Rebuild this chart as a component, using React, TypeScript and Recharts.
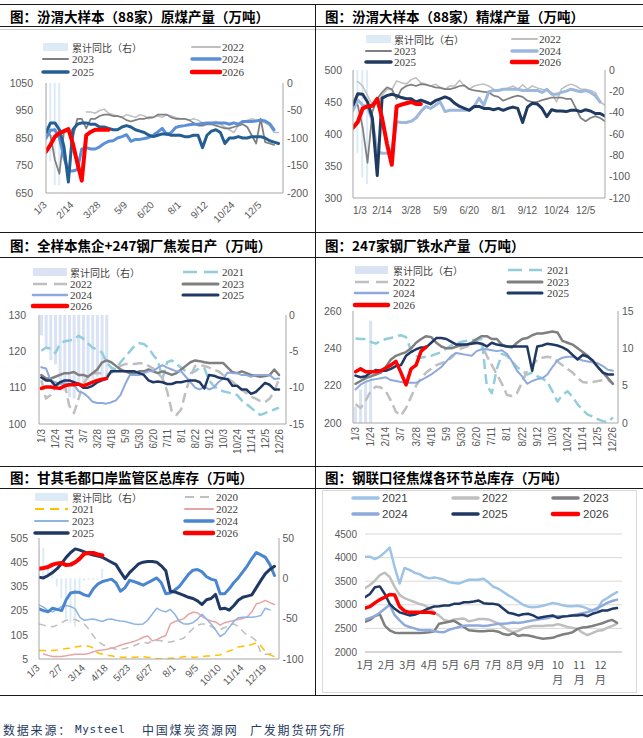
import React from 'react';
import { ComposedChart, Line, Bar, XAxis, YAxis, CartesianGrid } from 'recharts';

const SANS = '"Liberation Sans", Arial, sans-serif';
const SERIF = '"Liberation Serif", "Times New Roman", serif';
const CJK = '"Noto Sans CJK SC", "Noto Sans", sans-serif';
const TICK = '#595959';
const AXIS = '#A6A6A6';
const _ = null;

// ---------- Chart 1: 汾渭原煤产量 ----------
const c1Ticks = [0, 6, 12, 18, 24, 30, 36, 42, 48];
const c1Labels = ['1/3', '2/14', '3/28', '5/9', '6/20', '8/1', '9/12', '10/24', '12/5'];
const c1Bar = [-64, -143, -186, -186];
const c1_2022 = [_, _, _, _, _, _, _, _, _, 945, 945, 940, 950, 955, 940, 935, 930, 925, 935, 930, 925, 935, 930, 920, 925, 930, 925, 935, 930, 925, 920, 920, 915, 920, 915, 905, 900, 905, 910, 900, 890, 880, 870, 895, 905, 915, 920, 915, 910, 905, 895, 870, 870];
const c1_2023 = [870, 860, 770, 720, 870, 880, 850, 920, 920, 885, 920, 920, 930, 935, 935, 930, 930, 925, 915, 910, 915, 920, 920, 925, 925, 935, 935, 935, 925, 920, 920, 920, 915, 905, 895, 895, 900, 900, 895, 890, 885, 885, 890, 895, 900, 890, 860, 830, 920, 835, 830, 825];
const c1_2024 = [849, 878, 880, 850, 780, 730, 730, 735, 810, 815, 810, 810, 818, 830, 838, 840, 850, 855, 862, 838, 845, 845, 848, 852, 860, 872, 885, 862, 870, 888, 893, 895, 898, 900, 900, 903, 905, 905, 905, 905, 905, 900, 905, 900, 910, 910, 910, 912, 915, 912, 902, 880];
const c1_2025 = [870, 905, 905, 880, 820, 690, 880, 900, 905, 905, 900, 900, 890, 890, 885, 880, 880, 890, 895, 890, 880, 875, 870, 860, 855, 860, 865, 865, 860, 860, 860, 855, 855, 860, 860, 815, 860, 875, 880, 870, 830, 850, 850, 855, 850, 850, 855, 855, 855, 850, 840, 835, 830];
const c1_2026 = [800, 825, 855, 868, 875, 882, 830, 760, 695, 860, 872, 880, 880, 880, 880];

// ---------- Chart 2: 汾渭精煤产量 ----------
const c2Ticks = [0, 6, 12, 18, 24, 30, 36, 42, 48];
const c2Labels = ['1/3', '2/14', '3/28', '5/9', '6/20', '8/1', '9/12', '10/24', '12/5'];
const c2Bar = [-37, -78, -101, -107];
const c2_2022 = [_, 482, 475, 460, 445, 448, 460, 470, 469, 483, 480, 478, 485, 488, 480, 478, 475, 478, 473, 470, 475, 475, 484, 475, 470, 475, 477, 478, 475, 470, 468, 470, 472, 475, 470, 477, 470, 475, 472, 470, 468, 465, 450, 470, 475, 478, 475, 470, 470, 468, 465, 450, 445];
const c2_2023 = [450, 445, 410, 355, 435, 455, 465, 473, 470, 455, 470, 475, 477, 475, 478, 477, 475, 473, 472, 470, 470, 472, 475, 476, 470, 468, 467, 466, 465, 460, 458, 452, 455, 458, 460, 458, 452, 450, 450, 453, 455, 457, 457, 457, 455, 455, 440, 425, 420, 425, 428, 425, 420];
const c2_2024 = [437, 453, 445, 443, 420, 372, 370, 370, 375, 419, 418, 418, 420, 425, 435, 443, 440, 445, 450, 435, 437, 437, 437, 437, 438, 443, 456, 445, 466, 468, 468, 470, 470, 470, 470, 468, 468, 468, 468, 465, 470, 462, 462, 465, 467, 470, 468, 466, 468, 465, 460, 450];
const c2_2025 = [445, 463, 462, 450, 425, 335, 456, 460, 462, 460, 457, 455, 455, 450, 453, 450, 447, 452, 455, 458, 455, 448, 443, 440, 437, 443, 443, 440, 440, 438, 440, 437, 440, 442, 440, 418, 442, 448, 447, 440, 427, 438, 436, 436, 435, 437, 437, 435, 438, 436, 432, 432, 428];
const c2_2026 = [410, 419, 440, 443, 444, 455, 425, 385, 352, 443, 446, 448, 450, 447, 447];

// ---------- Chart 3: 焦炭日产 ----------
const c3Ticks = [0, 3, 6, 9, 12, 15, 18, 21, 24, 27, 30, 33, 36, 39, 42, 45, 48, 51];
const c3Labels = ['1/3', '1/24', '2/14', '3/7', '3/28', '4/18', '5/9', '5/30', '6/20', '7/11', '8/1', '8/22', '9/12', '10/3', '10/24', '11/14', '12/5', '12/26'];
const c3Bar = [-2.8, -4.5, -6.2, -6.8, -9, -10.5, -11.3, -11.5, -9.5, -9.2, -9, -8.8, -8.5, -8.5, -8.7];
const c3_2021 = [120.2, 121, 120.8, 119.5, 122, 122.8, 123, 123.2, 124.3, 123.5, 122.2, 121, 120.5, 119.7, 117, 115.5, 115, 117, 118.5, 120, 121.5, 122.2, 122, 121, 119, 117.5, 112.5, 117, 117.5, 116.5, 115.5, 114.5, 114, 114.5, 115.5, 115.3, 112, 110.5, 109.5, 109, 108.7, 108.4, 108, 106.5, 105.5, 104.5, 103.3, 102.5, 103, 103.5, 104, 104.5];
const c3_2022 = [112, 107, 108, 110, 111.5, 111, 105, 103, 107, 111, 113, 114, 114, 114, 113.5, 114, 115, 116, 116.5, 116.5, 116.5, 116.7, 116.7, 116, 115.3, 114, 112.6, 109, 103.5, 102.5, 104, 109, 113, 116, 116.2, 116, 115.5, 115, 114.5, 113.5, 112.5, 111.7, 110.5, 109.4, 108.5, 107.5, 107, 106.3, 106, 107, 109, 112.4];
const c3_2023 = [113.5, 112.5, 112.5, 113, 113.5, 114, 114, 114.3, 113.5, 113.5, 113, 114, 115, 116.9, 117.5, 117, 116, 115, 114.5, 114, 114, 114.5, 114.5, 115, 114.5, 114, 114.5, 114, 113.5, 114, 115, 116, 117, 117.5, 117.3, 117, 116.8, 116.8, 116.8, 116.8, 115.5, 114.3, 114, 114.5, 114, 113.5, 113.3, 113, 113.2, 113.5, 115, 113.5];
const c3_2024 = [115.6, 115.3, 112, 111.5, 111, 111.2, 111, 110.8, 109, 108.5, 107.5, 106.1, 105.8, 105.8, 105.6, 106, 106.5, 108, 111, 113.5, 113.5, 113.5, 114, 114.5, 114.5, 115.5, 116.2, 115.5, 115, 114.5, 114.5, 113, 111.5, 110, 109.5, 110.3, 109.5, 110, 111.5, 112.5, 114.2, 114, 114, 113.5, 113.5, 113, 113.5, 113.5, 113.5, 113.5, 112.4, 112.5];
const c3_2025 = [112.8, 112, 112, 110.5, 111.5, 112, 112, 111.5, 111, 110, 110, 110.5, 111.5, 112, 112.5, 114.6, 114.5, 114.5, 114.5, 114.5, 114.5, 114, 113.5, 112, 111.5, 111.7, 111.5, 111, 111, 111.5, 111.5, 111.8, 112, 112, 111.5, 109.8, 113.5, 113.3, 112.8, 112.5, 112.3, 110.5, 110.5, 109.5, 109.5, 108.3, 108.8, 110, 111.3, 110.8, 109.5, 109.5];
const c3_2026 = [109.8, 110.2, 110.2, 110, 109.8, 110.5, 110.8, 110.8, 111, 110.5, 111, 111.5, 112, 112.3, 112.5];

// ---------- Chart 4: 247家钢厂铁水产量 ----------
const c4Ticks = c3Ticks;
const c4Labels = c3Labels;
const c4Bar = [2.2, 4.5, 6, 13.7];
const c4_2021 = [245.3, 245, 245, 243.5, 242.5, 244, 245, 245.5, 246.5, 247, 246, 239, 236, 235, 235.5, 236, 237, 238, 240, 241.5, 242.5, 243.5, 244, 244.5, 244.5, 245, 220, 216, 229, 237, 236, 233, 230, 228, 226, 227, 225, 224, 222, 217, 211.5, 215, 217, 214, 210, 207, 204.5, 203.5, 202, 201, 200.5, 203];
const c4_2022 = [210, 208, 212, 217, 219.5, 219, 217, 212, 206, 204, 208, 214, 220, 224, 227, 229, 231, 232, 233, 235, 238, 240, 241, 242, 243, 242, 236, 231, 226, 221, 215, 214.5, 216, 222, 228, 231, 234, 235, 235.5, 235, 233, 231, 229, 227, 224, 222, 221.5, 222, 222.5, 223, 223, 221];
const c4_2023 = [221, 222.5, 224, 225, 226, 227, 230, 234, 236, 237, 238, 240, 243, 245, 246.5, 246, 243, 241, 240, 240, 241, 241.5, 242, 243, 245, 246.5, 246.5, 245, 245, 242, 241, 240.5, 243, 245, 245.5, 247, 248, 248, 248.5, 249, 248.5, 244, 243, 242, 240, 238, 236, 233, 230, 227, 224, 221];
const c4_2024 = [218, 220.5, 222, 223, 223.5, 224, 224.5, 223, 222.5, 222, 221.5, 221.5, 221.5, 223, 224.5, 226, 228, 230, 233, 236, 237.5, 237, 236.5, 236, 238.5, 239.5, 239.5, 239, 238.5, 239, 237, 233, 228, 225, 221, 222.5, 223.5, 224, 226, 230, 233.5, 235, 235.5, 235.5, 234.5, 233.5, 233, 232.5, 232, 230.5, 228.5, 228];
const c4_2025 = [225.4, 224.5, 225, 227, 228.4, 228, 228, 229, 230.5, 231, 236, 238, 239.5, 240.5, 240.5, 243, 245.5, 245.5, 245, 243.5, 242, 242, 242, 242.5, 243, 242.5, 241, 243, 242, 241.5, 241, 241, 241, 241, 241, 228, 241, 241.5, 242.5, 242, 241.5, 240.5, 239, 236.5, 234, 236.5, 235.5, 233.5, 230, 227, 226, 226];
const c4_2026 = [227.5, 229, 227.5, 227.5, 227.5, 228, 229.5, 231, 233, 227, 220.4, 229, 231, 238.5, 240.8];

// ---------- Chart 5: 甘其毛都口岸库存 ----------
const c5Ticks = [0, 5, 10, 15, 20, 25, 30, 35, 40, 45, 50];
const c5Labels = ['1/3', '2/7', '3/14', '4/18', '5/23', '6/27', '8/1', '9/5', '10/10', '11/14', '12/19'];
const c5Bar = [36, 38, 12, 12, -10, -25, -50, -55, -60, -20, -3, -2, -2, -2, 12];
const c5_2020 = [150, 145, 140, 138, 145, 155, 165, 168, 168, 160, 150, 128, 100, 78, 65, 58, 50, 45, 45, 48, 55, 60, 68, 74, 70, 78, 82, 80, 76, 75, 80, 85, 92, 112, 130, 145, 150, 150, 140, 130, 126, 135, 145, 150, 140, 120, 102, 95, 80, 30, 25, 25, 35];
const c5_2021 = [40, 40, 40, 40, 42, 45, 48, 50, 55, 58, 60, 58, 50, 30, 25, 20, 18, 14, 12, 12, 12, 12, 13, 15, 12, 10, 7, 6, 7, 8, 8, 10, 15, 14, 12, 13, 15, 17, 18, 20, 22, 30, 38, 45, 55, 58, 60, 65, 72, 60, 35, 22, 15];
const c5_2022 = [_, 26, 20, 15, 15, 15, 18, 22, 25, 25, 25, 28, 35, 40, 42, 45, 50, 55, 62, 68, 72, 78, 85, 95, 100, 80, 85, 95, 102, 150, 160, 165, 172, 190, 198, 196, 180, 170, 162, 158, 145, 155, 160, 164, 168, 172, 180, 200, 233, 238, 247, 238, 230];
const c5_2023 = [229, 219, 205, 200, 210, 222, 226, 222, 212, 178, 165, 168, 170, 165, 160, 168, 170, 165, 162, 160, 155, 150, 148, 150, 165, 190, 215, 205, 200, 210, 190, 160, 150, 150, 155, 170, 190, 170, 150, 125, 98, 110, 135, 160, 175, 178, 178, 178, 180, 185, 215, 208];
const c5_2024 = [212, 205, 200, 215, 210, 205, 250, 278, 282, 280, 270, 265, 295, 315, 325, 330, 335, 320, 285, 300, 330, 325, 318, 310, 320, 330, 340, 320, 275, 278, 290, 305, 330, 355, 372, 375, 365, 345, 335, 330, 275, 275, 295, 320, 340, 365, 390, 420, 445, 435, 425, 395, 350];
const c5_2025 = [343, 340, 350, 362, 378, 400, 425, 445, 460, 455, 448, 440, 435, 430, 425, 415, 405, 395, 365, 337, 362, 380, 398, 405, 408, 408, 405, 390, 370, 285, 282, 275, 268, 260, 255, 245, 230, 250, 255, 272, 212, 215, 207, 225, 248, 260, 265, 270, 300, 330, 358, 375, 388];
const c5_2026 = [378, 381, 385, 395, 400, 402, 393, 395, 405, 420, 440, 443, 443, 437, 433];

// ---------- Chart 6: 钢联焦煤总库存 ----------
const c6Months = ['1月', '2月', '3月', '4月', '5月', '6月', '7月', '8月', '9月', '10月', '11月', '12月'];
const c6Ticks = c6Months.map((_m, m) => (m * 52) / 12);
const c6_2021 = [4020, 4020, 3970, 4020, 4110, 4210, 3800, 3450, 3780, 3740, 3680, 3650, 3590, 3560, 3580, 3560, 3530, 3480, 3460, 3450, 3490, 3530, 3530, 3530, 3550, 3470, 3380, 3340, 3270, 3200, 3140, 3070, 3000, 2960, 2950, 2960, 2980, 3010, 3040, 3020, 2990, 2970, 2970, 2980, 2960, 2920, 2880, 2900, 3080, 3140, 3210, 3270];
const c6_2022 = [3350, 3420, 3510, 3630, 3680, 3590, 3380, 3210, 3140, 3100, 3060, 3020, 2990, 2920, 2840, 2770, 2680, 2650, 2690, 2700, 2710, 2650, 2670, 2700, 2700, 2690, 2650, 2600, 2530, 2460, 2420, 2450, 2500, 2530, 2550, 2550, 2550, 2560, 2560, 2590, 2560, 2530, 2510, 2490, 2410, 2360, 2400, 2450, 2460, 2510, 2550, 2600];
const c6_2023 = [2640, 2680, 2760, 2800, 2560, 2460, 2410, 2400, 2400, 2400, 2400, 2400, 2410, 2420, 2440, 2600, 2620, 2640, 2660, 2600, 2530, 2460, 2450, 2440, 2440, 2450, 2450, 2430, 2380, 2360, 2400, 2340, 2360, 2350, 2330, 2300, 2280, 2290, 2300, 2340, 2370, 2390, 2420, 2490, 2520, 2530, 2550, 2580, 2610, 2650, 2680, 2620];
const c6_2024 = [2690, 2720, 2760, 2830, 2915, 3000, 2780, 2670, 2570, 2530, 2500, 2465, 2460, 2460, 2445, 2425, 2420, 2470, 2500, 2530, 2555, 2560, 2560, 2560, 2550, 2560, 2580, 2600, 2600, 2610, 2625, 2615, 2630, 2650, 2670, 2690, 2705, 2720, 2750, 2760, 2760, 2765, 2780, 2800, 2820, 2845, 2880, 2930, 2980, 3040, 3080, 3110];
const c6_2025 = [3160, 3230, 3370, 3390, 3230, 3020, 2915, 2840, 2810, 2775, 2790, 2830, 2880, 2930, 2965, 2970, 2985, 2985, 3020, 3020, 3055, 3055, 3070, 3090, 3035, 3020, 3020, 3000, 2915, 2830, 2810, 2775, 2800, 2810, 2775, 2720, 2740, 2760, 2775, 2720, 2750, 2760, 2775, 2775, 2790, 2760, 2810, 2840, 2880, 2880, 2915, 2930];
const c6_2026 = [2930, 2960, 3040, 3110, 3160, 3220, 3210, 2960, 2870, 2840, 2840, 2840, 2840, 2840, 2820];

type Series = Record<string, (number | null)[]>;
function buildRows(n: number, series: Series) {
  return Array.from({ length: n }, (_v, i) => {
    const r: Record<string, number | null> = { x: i };
    for (const k of Object.keys(series)) r[k] = series[k][i] ?? null;
    return r;
  });
}

const rows1 = buildRows(53, { bar: c1Bar, y2022: c1_2022, y2023: c1_2023, y2024: c1_2024, y2025: c1_2025, y2026: c1_2026 });
const rows2 = buildRows(53, { bar: c2Bar, y2022: c2_2022, y2023: c2_2023, y2024: c2_2024, y2025: c2_2025, y2026: c2_2026 });
const rows3 = buildRows(52, { bar: c3Bar, y2021: c3_2021, y2022: c3_2022, y2023: c3_2023, y2024: c3_2024, y2025: c3_2025, y2026: c3_2026 });
const rows4 = buildRows(52, { bar: c4Bar, y2021: c4_2021, y2022: c4_2022, y2023: c4_2023, y2024: c4_2024, y2025: c4_2025, y2026: c4_2026 });
const rows5 = buildRows(53, { bar: c5Bar, y2020: c5_2020, y2021: c5_2021, y2022: c5_2022, y2023: c5_2023, y2024: c5_2024, y2025: c5_2025, y2026: c5_2026 });
const rows6 = buildRows(52, { y2021: c6_2021, y2022: c6_2022, y2023: c6_2023, y2024: c6_2024, y2025: c6_2025, y2026: c6_2026 });

type Mode = 'd45' | 'd90' | 'flat' | 'month';
function makeXTick(ticks: number[], labels: string[], mode: Mode, dx = 0) {
  return (props: any) => {
    const { x, y, payload } = props;
    const idx = ticks.findIndex((t) => Math.abs(t - payload.value) < 1e-6);
    const label = idx >= 0 ? labels[idx] : '';
    const common = { fill: TICK, fontSize: 10, fontFamily: SANS };
    if (mode === 'flat') {
      return (
        <text x={x} y={y} textAnchor={idx === 0 ? 'start' : 'middle'} dominantBaseline="central" {...common}>
          {label}
        </text>
      );
    }
    if (mode === 'month') {
      const parts = label.length > 2 ? [label.slice(0, -1), label.slice(-1)] : [label];
      return (
        <g>
          {parts.map((p, k) => (
            <text key={k} x={x} y={y + k * 15} textAnchor="middle" dominantBaseline="central" fill={TICK} fontSize={11} fontFamily={CJK}>
              {p}
            </text>
          ))}
        </g>
      );
    }
    const ang = mode === 'd45' ? -45 : -90;
    const ax = x + dx;
    return (
      <text x={ax} y={y} transform={`rotate(${ang} ${ax} ${y})`} textAnchor="end" dominantBaseline="central" {...common}>
        {label}
      </text>
    );
  };
}

const yTick = { fill: TICK, fontSize: 10.5, fontFamily: SANS };

function yAxis(id: string, side: 'left' | 'right', domain: number[], ticks: number[], width: number, margin: number, line = true) {
  return (
    <YAxis
      yAxisId={id}
      orientation={side}
      type="number"
      domain={domain}
      ticks={ticks}
      width={width}
      tickSize={0}
      tickMargin={margin}
      tickLine={false}
      axisLine={line ? { stroke: AXIS } : false}
      tick={yTick}
      interval={0}
      allowDataOverflow
    />
  );
}

function xAxis(domain: number[], ticks: number[], labels: string[], mode: Mode, height: number, margin: number, dx = 0, stroke = AXIS) {
  return (
    <XAxis
      type="number"
      dataKey="x"
      domain={domain}
      ticks={ticks}
      interval={0}
      tickSize={0}
      tickMargin={margin}
      tickLine={false}
      height={height}
      axisLine={{ stroke }}
      tick={makeXTick(ticks, labels, mode, dx)}
      allowDataOverflow
    />
  );
}

function ln(key: string, color: string, w: number, dash?: string, axisId: string | number = 'l') {
  return (
    <Line
      key={key}
      yAxisId={axisId}
      type="linear"
      dataKey={key}
      stroke={color}
      strokeWidth={w}
      strokeDasharray={dash}
      strokeLinejoin="round"
      strokeLinecap={dash ? 'butt' : 'round'}
      dot={false}
      activeDot={false}
      isAnimationActive={false}
    />
  );
}

function bar(color: string, size: number) {
  return <Bar yAxisId="r" dataKey="bar" fill={color} barSize={size} isAnimationActive={false} />;
}

// ---------- overlay: frame, titles, legends ----------
type LegItem = { label: string; color: string; kind: 'bar' | 'line'; sw?: number; dash?: string };
type Col = [number, number, number];
function LegendBlock({ cols, rows, items, sans }: { cols: Col[]; rows: number[]; items: LegItem[]; sans?: boolean }) {
  return (
    <g>
      {items.map((it, k) => {
        const [x0, x1, tx] = cols[k % cols.length];
        const y = rows[Math.floor(k / cols.length)];
        const cjk = /[\u4e00-\u9fff]/.test(it.label);
        return (
          <g key={k}>
            {it.kind === 'bar' ? (
              <rect x={x0} y={y - 4} width={x1 - x0} height={8} fill={it.color} />
            ) : (
              <line x1={x0} y1={y} x2={x1} y2={y} stroke={it.color} strokeWidth={it.sw ?? 2} strokeDasharray={it.dash} strokeLinecap={it.dash ? 'butt' : 'round'} />
            )}
            <text
              x={tx}
              y={y}
              dominantBaseline="central"
              fill="#404040"
              fontSize={sans ? 11.5 : cjk ? 10 : 11}
              fontFamily={sans ? SANS : cjk ? CJK : SERIF}
            >
              {it.label}
            </text>
          </g>
        );
      })}
    </g>
  );
}

const BAR_C = '#DDEBF7';
const BAR_C2 = '#DAE3F3';
const TITLES = [
  { x: 10, y: 16, t: '图：汾渭大样本（88家）原煤产量（万吨）' },
  { x: 325, y: 16, t: '图：汾渭大样本（88家）精煤产量（万吨）' },
  { x: 10, y: 245, t: '图：全样本焦企+247钢厂焦炭日产（万吨）' },
  { x: 325, y: 245, t: '图：247家钢厂铁水产量（万吨）' },
  { x: 10, y: 477, t: '图：甘其毛都口岸监管区总库存（万吨）' },
  { x: 325, y: 477, t: '图：钢联口径焦煤各环节总库存（万吨）' },
];
const HLINES = [4, 26, 232, 257, 466, 488, 695];

function Overlay() {
  return (
    <svg width={643} height={738} style={{ position: 'absolute', left: 0, top: 0 }}>
      {HLINES.map((y) => (
        <line key={y} x1={0} y1={y + 0.5} x2={643} y2={y + 0.5} stroke="#1a1a1a" strokeWidth={1} />
      ))}
      <line x1={0} y1={29.5} x2={643} y2={29.5} stroke="#D0D0D0" strokeWidth={1} />
      <line x1={315.5} y1={4} x2={315.5} y2={695} stroke="#1a1a1a" strokeWidth={1} />
      <rect x={322.5} y={490.5} width={314} height={202} fill="none" stroke="#D9D9D9" strokeWidth={1} />
      {TITLES.map((t, k) => (
        <text key={k} x={t.x} y={t.y} dominantBaseline="central" fontSize={13.5} fontWeight={700} fontFamily={CJK} fill="#000">
          {t.t}
        </text>
      ))}
      <LegendBlock
        cols={[[43, 68, 72], [192, 220, 222]]}
        rows={[47, 59, 72]}
        items={[
          { label: '累计同比（右）', color: BAR_C, kind: 'bar' },
          { label: '2022', color: '#BFBFBF', kind: 'line', sw: 2 },
          { label: '2023', color: '#7F7F7F', kind: 'line', sw: 2 },
          { label: '2024', color: '#5B8FD6', kind: 'line', sw: 3.5 },
          { label: '2025', color: '#255E91', kind: 'line', sw: 3.5 },
          { label: '2026', color: '#FF0000', kind: 'line', sw: 4.5 },
        ]}
      />
      <LegendBlock
        cols={[[366, 391, 394], [512, 537, 539]]}
        rows={[39, 51, 62]}
        items={[
          { label: '累计同比（右）', color: BAR_C, kind: 'bar' },
          { label: '2022', color: '#BFBFBF', kind: 'line', sw: 2 },
          { label: '2023', color: '#808080', kind: 'line', sw: 2 },
          { label: '2024', color: '#9DB7DD', kind: 'line', sw: 3.5 },
          { label: '2025', color: '#203A60', kind: 'line', sw: 3.5 },
          { label: '2026', color: '#FF0000', kind: 'line', sw: 4.5 },
        ]}
      />
      <LegendBlock
        cols={[[33, 67, 70], [183, 218, 222]]}
        rows={[272, 284, 295, 306]}
        items={[
          { label: '累计同比（右）', color: BAR_C2, kind: 'bar' },
          { label: '2021', color: '#92CDDC', kind: 'line', sw: 2.5, dash: '14 7' },
          { label: '2022', color: '#BFBFBF', kind: 'line', sw: 2.5, dash: '14 7' },
          { label: '2023', color: '#7F7F7F', kind: 'line', sw: 3 },
          { label: '2024', color: '#8EA9DB', kind: 'line', sw: 2.5 },
          { label: '2025', color: '#1F3864', kind: 'line', sw: 3 },
          { label: '2026', color: '#FF0000', kind: 'line', sw: 4.5 },
        ]}
      />
      <LegendBlock
        cols={[[355, 388, 393], [508, 542, 547]]}
        rows={[270, 282, 293, 305]}
        items={[
          { label: '累计同比（右）', color: BAR_C2, kind: 'bar' },
          { label: '2021', color: '#92CDDC', kind: 'line', sw: 2.5, dash: '14 7' },
          { label: '2022', color: '#BFBFBF', kind: 'line', sw: 2.5, dash: '14 7' },
          { label: '2023', color: '#7F7F7F', kind: 'line', sw: 3 },
          { label: '2024', color: '#8EA9DB', kind: 'line', sw: 2.5 },
          { label: '2025', color: '#1F3864', kind: 'line', sw: 3 },
          { label: '2026', color: '#FF0000', kind: 'line', sw: 4.5 },
        ]}
      />
      <LegendBlock
        cols={[[35, 68, 72], [185, 213, 216]]}
        rows={[497, 509, 521, 533]}
        items={[
          { label: '累计同比（右）', color: BAR_C, kind: 'bar' },
          { label: '2020', color: '#BFBFBF', kind: 'line', sw: 2, dash: '9 6' },
          { label: '2021', color: '#FFC000', kind: 'line', sw: 2, dash: '9 6' },
          { label: '2022', color: '#E6A5A5', kind: 'line', sw: 2 },
          { label: '2023', color: '#8DB4E2', kind: 'line', sw: 2 },
          { label: '2024', color: '#4A86D0', kind: 'line', sw: 3.5 },
          { label: '2025', color: '#1F3864', kind: 'line', sw: 3.5 },
          { label: '2026', color: '#FF0000', kind: 'line', sw: 4.5 },
        ]}
      />
      <LegendBlock
        sans
        cols={[[353, 378, 382], [453, 478, 482], [553, 578, 583]]}
        rows={[498, 514]}
        items={[
          { label: '2021', color: '#9DC3E6', kind: 'line', sw: 3.5 },
          { label: '2022', color: '#BFBFBF', kind: 'line', sw: 3.5 },
          { label: '2023', color: '#7F7F7F', kind: 'line', sw: 3.5 },
          { label: '2024', color: '#8EA9DB', kind: 'line', sw: 3.5 },
          { label: '2025', color: '#1F3864', kind: 'line', sw: 3.5 },
          { label: '2026', color: '#FF0000', kind: 'line', sw: 4.5 },
        ]}
      />
      <g fill="#1F3A60" fontSize={12} dominantBaseline="central">
        <text x={3} y={729} fontFamily={CJK} letterSpacing={1.8}>数据来源：</text>
        <text x={75} y={729} fontFamily='"DejaVu Sans Mono", monospace' fontSize={11} letterSpacing={0.6}>Mysteel</text>
        <text x={142} y={729} fontFamily={CJK} letterSpacing={1.8}>中国煤炭资源网</text>
        <text x={250} y={729} fontFamily={CJK} letterSpacing={1.8}>广发期货研究所</text>
      </g>
    </svg>
  );
}

export default function App() {
  return (
    <div style={{ position: 'absolute', left: 0, top: 0, width: 643, height: 738, background: '#fff', overflow: 'hidden' }}>
      <Overlay />

      <div style={{ position: 'absolute', left: 0, top: 30 }}>
        <ComposedChart width={315} height={200} data={rows1} margin={{ top: 53, right: 2, bottom: 5, left: 6 }}>
          {xAxis([0, 53], c1Ticks, c1Labels, 'd45', 32, 10, -1)}
          {yAxis('l', 'left', [650, 1050], [650, 750, 850, 950, 1050], 40, 13)}
          {yAxis('r', 'right', [-200, 0], [-200, -150, -100, -50, 0], 30, 4)}
          {bar(BAR_C, 2)}
          {ln('y2022', '#BFBFBF', 1.5)}
          {ln('y2023', '#7F7F7F', 1.75)}
          {ln('y2024', '#5B8FD6', 3)}
          {ln('y2025', '#255E91', 3)}
          {ln('y2026', '#FF0000', 4)}
        </ComposedChart>
      </div>

      <div style={{ position: 'absolute', left: 316, top: 30 }}>
        <ComposedChart width={327} height={200} data={rows2} margin={{ top: 40, right: 3, bottom: 7, left: 2 }}>
          {xAxis([0, 52], c2Ticks, c2Labels, 'flat', 25, 12)}
          {yAxis('l', 'left', [300, 500], [300, 350, 400, 450, 500], 35, 11)}
          {yAxis('r', 'right', [-120, 0], [-120, -100, -80, -60, -40, -20, 0], 35, 4)}
          {bar(BAR_C, 2)}
          {ln('y2022', '#BFBFBF', 1.5)}
          {ln('y2023', '#808080', 1.75)}
          {ln('y2024', '#9DB7DD', 3)}
          {ln('y2025', '#203A60', 3)}
          {ln('y2026', '#FF0000', 4)}
        </ComposedChart>
      </div>

      <div style={{ position: 'absolute', left: 0, top: 260 }}>
        <ComposedChart width={315} height={205} data={rows3} margin={{ top: 55, right: 2, bottom: 3, left: 4 }}>
          {xAxis([-0.5, 52.5], c3Ticks, c3Labels, 'd90', 38, 5)}
          {yAxis('l', 'left', [100, 130], [100, 110, 120, 130], 35, 13)}
          {yAxis('r', 'right', [-15, 0], [-15, -10, -5, 0], 27, 3)}
          {bar(BAR_C2, 3)}
          {ln('y2021', '#92CDDC', 2.5, '10 5')}
          {ln('y2022', '#BFBFBF', 2.5, '10 5')}
          {ln('y2023', '#7F7F7F', 2.5)}
          {ln('y2024', '#8EA9DB', 2)}
          {ln('y2025', '#1F3864', 2.5)}
          {ln('y2026', '#FF0000', 3.5)}
        </ComposedChart>
      </div>

      <div style={{ position: 'absolute', left: 316, top: 260 }}>
        <ComposedChart width={327} height={205} data={rows4} margin={{ top: 51, right: 3, bottom: 4, left: 2 }}>
          {xAxis([-0.5, 52], c4Ticks, c4Labels, 'd90', 38, 4)}
          {yAxis('l', 'left', [200, 260], [200, 220, 240, 260], 35, 11.5)}
          {yAxis('r', 'right', [0, 15], [0, 5, 10, 15], 22, 4)}
          {bar(BAR_C2, 3)}
          {ln('y2021', '#92CDDC', 2.5, '10 5')}
          {ln('y2022', '#BFBFBF', 2.5, '10 5')}
          {ln('y2023', '#7F7F7F', 2.5)}
          {ln('y2024', '#8EA9DB', 2)}
          {ln('y2025', '#1F3864', 2.5)}
          {ln('y2026', '#FF0000', 3.5)}
        </ComposedChart>
      </div>

      <div style={{ position: 'absolute', left: 0, top: 490 }}>
        <ComposedChart width={315} height={205} data={rows5} margin={{ top: 48, right: 3, bottom: 3, left: 4 }}>
          {xAxis([0, 53], c5Ticks, c5Labels, 'd45', 33, 7, -1)}
          {yAxis('l', 'left', [5, 505], [5, 105, 205, 305, 405, 505], 35, 11)}
          {yAxis('r', 'right', [-100, 50], [-100, -50, 0, 50], 33, 3.5)}
          {bar(BAR_C, 2)}
          {ln('y2020', '#BFBFBF', 1.5, '7 5')}
          {ln('y2021', '#FFC000', 1.5, '7 5')}
          {ln('y2022', '#E6A5A5', 1.5)}
          {ln('y2023', '#8DB4E2', 1.5)}
          {ln('y2024', '#4A86D0', 3)}
          {ln('y2025', '#1F3864', 3)}
          {ln('y2026', '#FF0000', 4)}
        </ComposedChart>
      </div>

      <div style={{ position: 'absolute', left: 322, top: 490 }}>
        <ComposedChart width={315} height={202} data={rows6} margin={{ top: 44, right: 15, bottom: 4, left: 3 }}>
          <CartesianGrid vertical={false} stroke="#D9D9D9" yAxisId="l" />
          {xAxis([0, 52], c6Ticks, c6Months, 'month', 36, 12, 0, '#BFBFBF')}
          <YAxis
            yAxisId="l"
            orientation="left"
            type="number"
            domain={[2000, 4500]}
            ticks={[2000, 2500, 3000, 3500, 4000, 4500]}
            width={40}
            tickSize={0}
            tickMargin={8}
            tickLine={false}
            axisLine={false}
            tick={{ fill: TICK, fontSize: 10, fontFamily: SANS }}
            interval={0}
            allowDataOverflow
          />
          {ln('y2021', '#9DC3E6', 2.5)}
          {ln('y2022', '#BFBFBF', 2.5)}
          {ln('y2023', '#7F7F7F', 2.5)}
          {ln('y2024', '#8EA9DB', 2.5)}
          {ln('y2025', '#1F3864', 2.5)}
          {ln('y2026', '#FF0000', 3.5)}
        </ComposedChart>
      </div>
    </div>
  );
}
